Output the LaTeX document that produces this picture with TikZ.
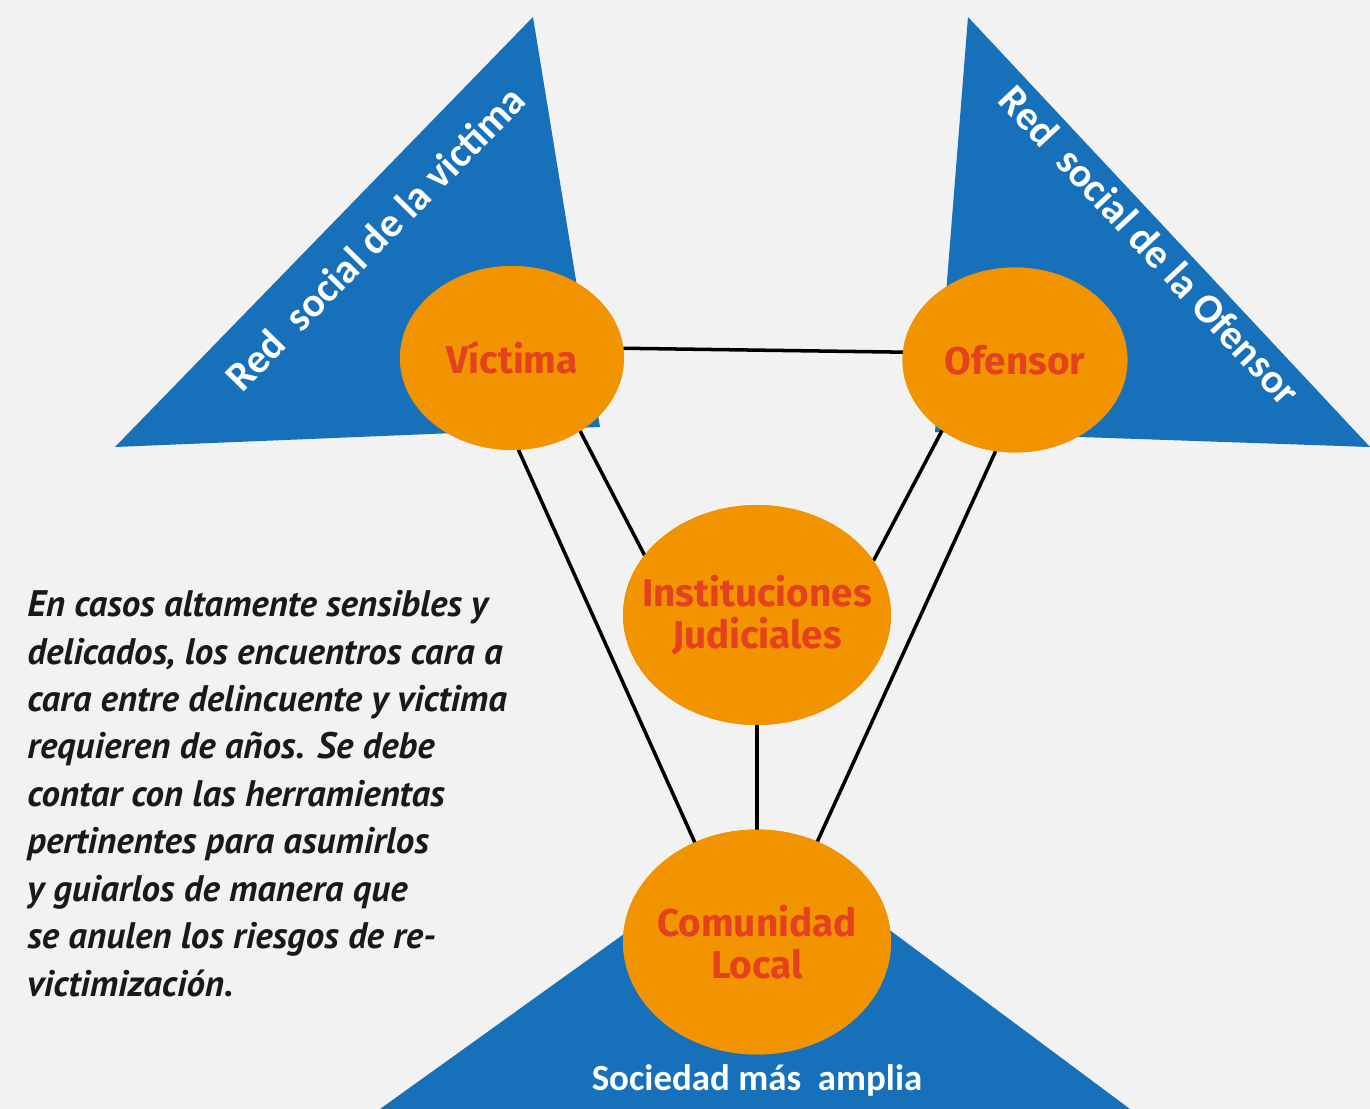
\documentclass[tikz,border=0pt]{standalone}
\usepackage{fontspec}
\setmainfont{Fira Sans}
\newfontfamily\parafont{PT Sans}
\newfontfamily\trifont{Carlito}
\usetikzlibrary{shapes.geometric}
\definecolor{bgc}{HTML}{F2F2F3}
\definecolor{triblue}{HTML}{1670BA}
\definecolor{orng}{HTML}{F29400}
\definecolor{redt}{HTML}{E5411E}
\tikzset{
  blob/.style={ellipse, fill=orng, inner sep=0pt, outer sep=0pt},
  lbl/.style={text=redt, font=\bfseries\fontsize{22}{24}\selectfont, align=center, inner sep=0pt},
  trilbl/.style={text=white, font=\trifont\bfseries\fontsize{23.5}{26}\selectfont, inner sep=0pt},
  link/.style={black, line width=2pt},
  tri/.style={fill=triblue}
}
\begin{document}
\begin{tikzpicture}[x=0.02cm,y=-0.02cm]
\fill[bgc] (0,0) rectangle (1370,1109);
\useasboundingbox (0,0) rectangle (1370,1109);
% triangles
\fill[tri] (533,17) -- (115,447) -- (600,427) -- cycle;
\fill[tri] (968,17) -- (935,432) -- (1370,447) -- cycle;
\fill[tri] (762,835) -- (380,1109) -- (1130,1109) -- cycle;
% nodes
\node[blob, minimum width=4.48cm, minimum height=3.68cm] (vic) at (512,358) {};
\node[blob, minimum width=4.5cm, minimum height=3.7cm] (ofe) at (1015,360) {};
\node[blob, minimum width=5.36cm, minimum height=4.4cm] (ins) at (757,615) {};
\node[blob, minimum width=5.36cm, minimum height=4.5cm] (com) at (757,942) {};
% connectors
\draw[link] (vic.5) -- (ofe.176);
\draw[link] (vic.-47) -- (ins.152);
\draw[link] (vic.-86) -- (com.122);
\draw[link] (ofe.-136) -- (ins.25);
\draw[link] (ofe.-102) -- (com.59);
\draw[link] (ins.south) -- (com.north);
% redraw blobs over line ends
\fill[orng] (vic.center) ellipse [x radius=2.24cm, y radius=1.84cm];
\fill[orng] (ofe.center) ellipse [x radius=2.25cm, y radius=1.85cm];
\fill[orng] (ins.center) ellipse [x radius=2.68cm, y radius=2.2cm];
\fill[orng] (com.center) ellipse [x radius=2.68cm, y radius=2.25cm];
% labels
\node[lbl] (vict) at (vic.center) {Víctima};
\node[lbl] (ofet) at (ofe.center) {Ofensor};
\node[lbl] (inst) at (ins.center) {Instituciones\\Judiciales};
\node[lbl] (comt) at (com.center) {Comunidad\\Local};
\node[trilbl, rotate=45.5] (redv) at (375,238) {Red\ \ social de la victima};
\node[trilbl, rotate=-47] (redo) at (1150,245) {Red\ \ social de la Ofensor};
\node[trilbl, font=\trifont\bfseries\fontsize{21}{24}\selectfont] (soc) at (757,1080) {Sociedad más\ \ amplia};
\node[anchor=north west, align=left, inner sep=0pt,
  font=\parafont\bfseries\itshape\fontsize{21}{27}\selectfont, text=black!90] (para) at (27,590)
{En casos altamente sensibles y\\
delicados, los encuentros cara a\\
cara entre delincuente y victima\\
requieren de años. Se debe\\
contar con las herramientas\\
pertinentes para asumirlos\\
y guiarlos de manera que\\
se anulen los riesgos de re-\\
victimización.};
\end{tikzpicture}
\end{document}
